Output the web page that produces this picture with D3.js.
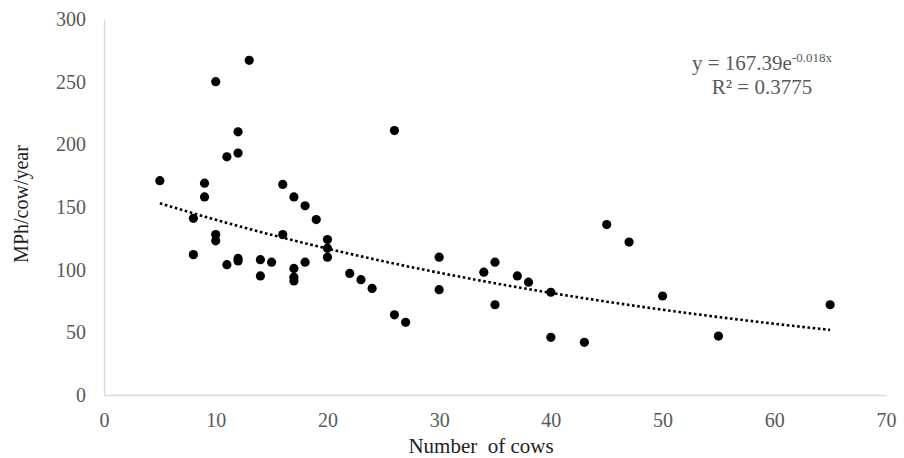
<!DOCTYPE html>
<html>
<head>
<meta charset="utf-8">
<script src="https://cdn.jsdelivr.net/npm/d3@7"></script>
<style>
  body { margin: 0; background: #fff; }
  svg { display: block; }
</style>
</head>
<body>
<div id="vis"></div>
<script>
const FRAME_WIDTH = 904;
const FRAME_HEIGHT = 458;
const MARGINS = {left: 104, right: 18, top: 19, bottom: 63};

// herd size (number of cows) and MPh/cow/year
const cows = [5, 8, 8, 9, 9, 10, 10, 10, 11, 11, 12, 12, 12, 12, 13, 14, 14, 15,
  16, 16, 17, 17, 17, 17, 18, 18, 19, 20, 20, 20, 22, 23, 24, 26, 26, 27,
  30, 30, 34, 35, 35, 37, 38, 40, 40, 43, 45, 47, 50, 55, 65];
const mph = [171, 141, 112, 169, 158, 250, 128, 123, 190, 104, 210, 193, 109, 107, 267, 108, 95, 106,
  168, 128, 158, 101, 94, 91, 151, 106, 140, 124, 117, 110, 97, 92, 85, 211, 64, 58,
  110, 84, 98, 106, 72, 95, 90, 82, 46, 42, 136, 122, 79, 47, 72];

const xTicks = [0, 10, 20, 30, 40, 50, 60, 70];
const yTicks = [0, 50, 100, 150, 200, 250, 300];

// exponential trend line
const trendA = 167.39;
const trendB = -0.018;
const trendRange = [5, 65];

const VIS_WIDTH = FRAME_WIDTH - MARGINS.left - MARGINS.right;
const VIS_HEIGHT = FRAME_HEIGHT - MARGINS.top - MARGINS.bottom;
const SERIF = "'Liberation Serif', 'DejaVu Serif', serif";

const svg = d3.select("#vis")
  .append("svg")
    .attr("width", FRAME_WIDTH)
    .attr("height", FRAME_HEIGHT);

const X_SCALE = d3.scaleLinear().domain([0, 70]).range([0, VIS_WIDTH]);
const Y_SCALE = d3.scaleLinear().domain([0, 300]).range([VIS_HEIGHT, 0]);

const g = svg.append("g")
  .attr("transform", "translate(" + MARGINS.left + "," + MARGINS.top + ")");

// axes (no tick marks, light grey lines)
const xAxis = g.append("g")
  .attr("transform", "translate(0," + VIS_HEIGHT + ")")
  .call(d3.axisBottom(X_SCALE).tickValues(xTicks).tickSize(0).tickPadding(18));
const yAxis = g.append("g")
  .call(d3.axisLeft(Y_SCALE).tickValues(yTicks).tickSize(0).tickPadding(18));

[xAxis, yAxis].forEach(a => {
  a.select(".domain").attr("stroke", "#d9d9d9").attr("stroke-width", 1.3);
  a.selectAll("text")
    .attr("font-family", SERIF)
    .attr("font-size", "20px")
    .attr("fill", "#595959");
});

// trend line
const trendPts = d3.range(trendRange[0], trendRange[1] + 0.01, 0.5)
  .map(x => [x, trendA * Math.exp(trendB * x)]);
g.append("path")
  .datum(trendPts)
  .attr("fill", "none")
  .attr("stroke", "#000")
  .attr("stroke-width", 2.6)
  .attr("stroke-dasharray", "2.6,2.6")
  .attr("d", d3.line().x(d => X_SCALE(d[0])).y(d => Y_SCALE(d[1])));

// points
g.selectAll("circle.pt")
  .data(cows.map((c, i) => [c, mph[i]]))
  .enter()
  .append("circle")
    .attr("class", "pt")
    .attr("cx", d => X_SCALE(d[0]))
    .attr("cy", d => Y_SCALE(d[1]))
    .attr("r", 4.6)
    .attr("fill", "#000");

// equation
const eq = svg.append("text")
  .attr("x", 762)
  .attr("y", 70)
  .attr("text-anchor", "middle")
  .attr("font-family", SERIF)
  .attr("font-size", "21px")
  .attr("fill", "#595959");
eq.append("tspan").text("y = 167.39e");
eq.append("tspan").attr("dy", -8).attr("font-size", "13px").text("-0.018x");

svg.append("text")
  .attr("x", 762)
  .attr("y", 94)
  .attr("text-anchor", "middle")
  .attr("font-family", SERIF)
  .attr("font-size", "21px")
  .attr("fill", "#595959")
  .text("R² = 0.3775");

// axis titles
svg.append("text")
  .attr("x", 481)
  .attr("y", 453)
  .attr("text-anchor", "middle")
  .attr("font-family", SERIF)
  .attr("font-size", "21px")
  .attr("fill", "#222")
  .attr("xml:space", "preserve")
  .text("Number  of cows");

svg.append("text")
  .attr("transform", "translate(28,204) rotate(-90)")
  .attr("text-anchor", "middle")
  .attr("font-family", SERIF)
  .attr("font-size", "20px")
  .attr("fill", "#222")
  .text("MPh/cow/year");
</script>
</body>
</html>
